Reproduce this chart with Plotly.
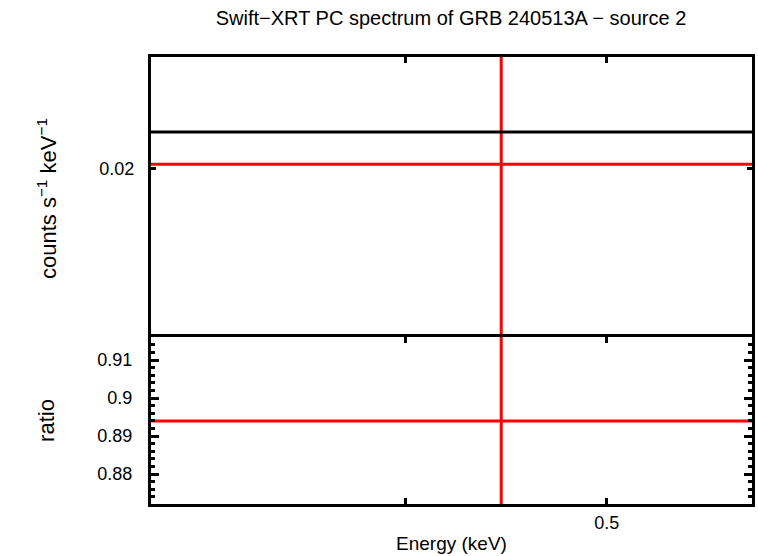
import math
import plotly.graph_objects as go

# single spectral bin (keV)
energy = [0.4447]
energy_lo = [0.3015]
energy_hi = [0.5874]

# folded spectrum (counts s^-1 keV^-1)
rate = [0.0202]
rate_err = [0.0085]
model = [0.0218]

# data / model ratio
ratio = [0.894]
ratio_err = [0.03]

# axis ranges and tick labels
x_range = [0.3015, 0.5874]
x_ticks = [0.3, 0.4, 0.5]
x_ticktext = ['', '', '0.5']
rate_range = [0.01336, 0.026]
rate_ticks = [0.02]
rate_ticktext = ['0.02']
ratio_range = [0.8721, 0.9161]
ratio_ticks = [0.88, 0.89, 0.9, 0.91]
ratio_ticktext = ['0.88', '0.89', '0.9', '0.91']

fig = go.Figure()

ex_plus = [h - e for h, e in zip(energy_hi, energy)]
ex_minus = [e - l for e, l in zip(energy, energy_lo)]

fig.add_trace(go.Scatter(x=energy, y=rate, mode='markers', marker=dict(size=1, color='red'),
                         error_x=dict(type='data', symmetric=False, array=ex_plus, arrayminus=ex_minus,
                                      color='red', thickness=3, width=0),
                         error_y=dict(type='data', array=rate_err, color='red', thickness=3, width=0),
                         xaxis='x', yaxis='y'))
fig.add_trace(go.Scatter(x=[energy_lo[0], energy_hi[0]], y=[model[0], model[0]], mode='lines',
                         line=dict(color='black', width=3), xaxis='x', yaxis='y'))
fig.add_trace(go.Scatter(x=energy, y=ratio, mode='markers', marker=dict(size=1, color='red'),
                         error_x=dict(type='data', symmetric=False, array=ex_plus, arrayminus=ex_minus,
                                      color='red', thickness=3, width=0),
                         error_y=dict(type='data', array=ratio_err, color='red', thickness=3, width=0),
                         xaxis='x2', yaxis='y2'))

font = 'Liberation Sans, Arial, sans-serif'
axis_common = dict(showline=True, linecolor='black', linewidth=3, mirror='allticks',
                   ticks='inside', tickcolor='black', tickwidth=2.5, showgrid=False, zeroline=False)

split = 167 / 447
log_x = [math.log10(v) for v in x_range]

fig.update_layout(
    width=758, height=556, showlegend=False,
    margin=dict(l=151, r=3, t=57, b=52),
    plot_bgcolor='white', paper_bgcolor='white',
    font=dict(family=font, size=18, color='black'),
    title=dict(text='Swift\u2212XRT PC spectrum of GRB 240513A \u2212 source 2',
               x=0.595, xanchor='center', y=0.967, yanchor='middle',
               font=dict(size=20)),
    xaxis=dict(type='log', range=log_x, tickvals=x_ticks, ticktext=x_ticktext, ticklen=6,
               showticklabels=False, anchor='y', **axis_common),
    yaxis=dict(type='log', domain=[split - 3 / 447, 1],
               range=[math.log10(rate_range[0]), math.log10(rate_range[1])],
               tickvals=rate_ticks, ticktext=rate_ticktext, ticklen=5, ticklabelstandoff=10,
               title=dict(text='counts s<sup>\u22121</sup> keV<sup>\u22121</sup>', standoff=37),
               anchor='x', **axis_common),
    xaxis2=dict(type='log', range=log_x, tickvals=x_ticks, ticktext=x_ticktext, ticklen=6,
                matches='x', anchor='y2',
                title=dict(text='Energy (keV)', standoff=6, font=dict(size=19)), **axis_common),
    yaxis2=dict(domain=[0, split], range=ratio_range, tickvals=ratio_ticks, ticktext=ratio_ticktext,
                ticklen=8, ticklabelstandoff=12,
                minor=dict(dtick=0.002, tick0=0.88, ticks='inside', ticklen=4, tickcolor='black',
                           tickwidth=2.5),
                title=dict(text='ratio', standoff=37), anchor='x2', **axis_common),
)

fig.write_html('out.html', config={'displayModeBar': False},
               post_script="document.body.style.margin='0';")
